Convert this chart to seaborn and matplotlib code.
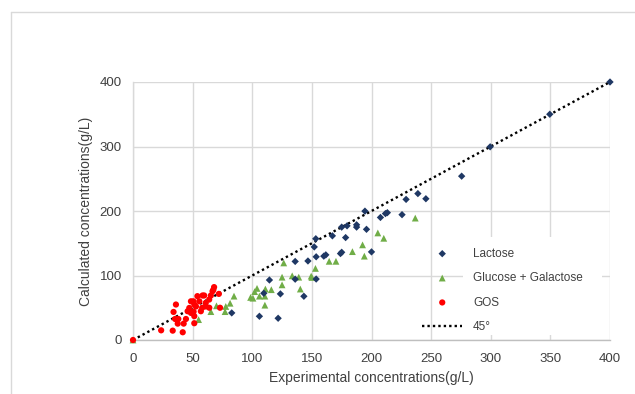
import matplotlib
matplotlib.use("Agg")
import matplotlib.pyplot as plt
from matplotlib.lines import Line2D
from matplotlib.patches import Rectangle
import seaborn as sns
import pandas as pd

# ---- data ----
lactose_x = [82.8, 106, 109.7, 114.4, 121.7, 123.6, 136, 136, 143.3, 146.7, 152, 153.3,
             153.6, 153.6, 160, 161.7, 167.2, 174, 175, 175, 178.3, 179.5, 187.5, 187.5,
             194.5, 195.8, 200, 207.5, 211.7, 213.3, 225.6, 229, 238.9, 245.6, 275.6,
             299.5, 349.5, 400]
lactose_y = [42, 36.8, 72.5, 93, 33.7, 71.5, 121.8, 94.3, 67.8, 122.5, 144.3, 157,
             129, 94.5, 130, 132, 161.5, 134, 175, 136, 158.8, 177, 178.6, 175,
             199.8, 171.6, 136.6, 190, 196, 197.4, 194.3, 218, 227, 219, 254,
             299.5, 350, 400]

glu_gal_x = [0, 55, 65.3, 70, 77.2, 77.8, 81.4, 84.7, 98.6, 100.6, 102, 104, 106,
             110.6, 110.6, 111, 116, 125, 125, 126.4, 133.5, 139, 140.3, 149.4, 150,
             153, 164.5, 170.2, 184, 192.5, 194, 205.3, 210.3, 236.7]
glu_gal_y = [0, 31.6, 44, 53, 44, 52, 57, 68, 66, 64.8, 75, 80, 68,
             54, 68, 79, 78, 85.5, 97.4, 119.5, 99.5, 97.4, 79, 99, 97,
             111, 122, 122, 137, 147.5, 130, 166, 157.7, 189]

gos_x = [0, 23.6, 33.3, 41.7, 36, 34, 35.3, 37.5, 42.5, 38, 44.4, 45.8, 47.2, 48.6,
         50.6, 51.4, 50.8, 51.4, 51.4, 52.8, 55.6, 56.9, 58.3, 59.7, 61, 61, 63.9,
         65.3, 66.7, 68, 67.4, 72, 73, 64, 54, 58, 48.6]
gos_y = [0, 15, 14.5, 12, 55, 43.5, 32.6, 25.4, 25.4, 32.6, 32.6, 44.6, 49.7, 60,
         60, 55, 44, 26, 37, 52, 60, 44.6, 69, 69, 52, 57.5, 62.7,
         69, 75.6, 82, 78, 71.5, 50, 50, 68, 50, 42]

diag = [0, 400]

series_names = ["Lactose", "Glucose + Galactose", "GOS", "45°"]
x_label = "Experimental concentrations(g/L)"
y_label = "Calculated concentrations(g/L)"
ticks = [0, 50, 100, 150, 200, 250, 300, 350, 400]
y_ticks = [0, 100, 200, 300, 400]

# ---- style ----
sns.set_theme(style="white")
plt.rcParams["font.family"] = ["Liberation Sans", "DejaVu Sans"]
text_col = "#404040"
grid_col = "#d9d9d9"

fig = plt.figure(figsize=(6.35, 3.94), dpi=100)
ax = fig.add_axes([133/635, 1-340/394, 477/635, 258/394])

df_l = pd.DataFrame({"x": lactose_x, "y": lactose_y})
df_g = pd.DataFrame({"x": glu_gal_x, "y": glu_gal_y})
df_o = pd.DataFrame({"x": gos_x, "y": gos_y})
df_d = pd.DataFrame({"x": diag, "y": diag})

sns.lineplot(data=df_d, x="x", y="y", ax=ax, color="black", linestyle=(0, (1, 1.3)),
             linewidth=1.7, label=series_names[3], zorder=2)
sns.scatterplot(data=df_g, x="x", y="y", ax=ax, marker="^", s=24, color="#70ad47",
                edgecolor="none", label=series_names[1], zorder=3, clip_on=False)
sns.scatterplot(data=df_l, x="x", y="y", ax=ax, marker="D", s=14, color="#1f3864",
                edgecolor="none", label=series_names[0], zorder=4, clip_on=False)
sns.scatterplot(data=df_o, x="x", y="y", ax=ax, marker="o", s=20, color="#ff0000",
                edgecolor="none", label=series_names[2], zorder=5, clip_on=False)

ax.set_xlim(0, 400)
ax.set_ylim(0, 400)
ax.set_xticks(ticks)
ax.set_yticks(y_ticks)
ax.grid(True, color=grid_col, linewidth=1)
ax.set_axisbelow(True)
for s in ["top", "right"]:
    ax.spines[s].set_visible(False)
ax.spines["left"].set_color(grid_col)
ax.spines["bottom"].set_color("#bfbfbf")
ax.spines["left"].set_linewidth(1)
ax.spines["bottom"].set_linewidth(1)
ax.tick_params(axis="x", length=3, color=grid_col, pad=6, labelsize=9.5, labelcolor=text_col)
ax.tick_params(axis="y", length=0, pad=8, labelsize=9.5, labelcolor=text_col)
ax.set_xlabel(x_label, fontsize=10, color=text_col, labelpad=5)
ax.set_ylabel(y_label, fontsize=10, color=text_col, labelpad=5)

# white area behind legend text (gridlines hidden there)
ax.add_patch(Rectangle(((463-133)/477, (340-335)/258), (602-463)/477, (335-237)/258,
                       transform=ax.transAxes, facecolor="white", edgecolor="none",
                       zorder=1))

handles, labels = ax.get_legend_handles_labels()
order = [labels.index(n) for n in series_names]
leg = ax.legend([handles[i] for i in order], [labels[i] for i in order],
                loc="lower left", bbox_to_anchor=(0.579, -0.023), frameon=False,
                fontsize=8.5, handlelength=3.4, handletextpad=0.9, labelspacing=1.05,
                borderpad=0.6)
for t in leg.get_texts():
    t.set_color(text_col)

# outer chart border (cropped Excel chart area)
fig.add_artist(Line2D([11/635, 11/635], [0, 1-12/394], color=grid_col, linewidth=1,
                      transform=fig.transFigure))
fig.add_artist(Line2D([11/635, 1], [1-12/394, 1-12/394], color=grid_col, linewidth=1,
                      transform=fig.transFigure))

fig.savefig("out.png", dpi=100, facecolor="white")
